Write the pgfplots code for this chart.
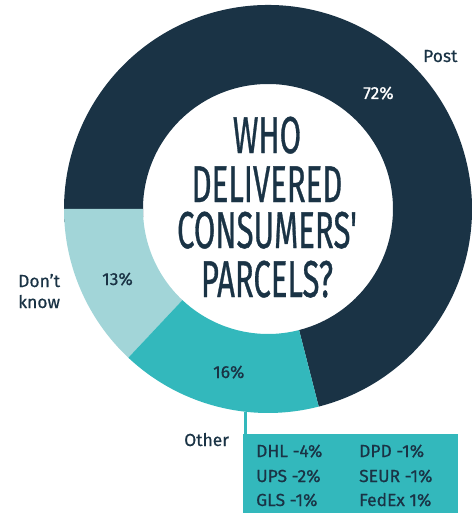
\documentclass[border=0pt]{standalone}
\usepackage{pgfplots}
\pgfplotsset{compat=1.18}
\usepackage{pgfplotstable}
\usepackage{fontspec}
\setmainfont{Fira Sans}[FakeBold=0.6]
\newfontfamily\titlefont[FakeBold=0.9]{Fira Sans}
\definecolor{cnavy}{HTML}{1A3345}
\definecolor{cteal}{HTML}{33B8BC}
\definecolor{clight}{HTML}{A2D5D8}

\pgfplotstableread{
segment share
Post 72
Dontknow 13
Other 16
}\shares

\newcommand\ring[3]{%
  \fill[#1] (axis cs:268,305) ++(#2:204bp) arc[start angle=#2,end angle=#3,radius=204bp]
    -- ++(#3+180:79bp) arc[start angle=#3,end angle=#2,radius=125bp] -- cycle;}

\begin{document}
\begin{tikzpicture}
\pgfplotstablegetelem{0}{share}\of\shares\let\sPost\pgfplotsretval
\pgfplotstablegetelem{1}{share}\of\shares\let\sDK\pgfplotsretval
\pgfplotstablegetelem{2}{share}\of\shares\let\sOther\pgfplotsretval
\pgfmathsetmacro\aA{180}
\pgfmathsetmacro\aB{\aA+3.6*\sDK}
\pgfmathsetmacro\aC{\aB+3.6*\sOther}
\pgfmathsetmacro\aD{\aC+3.6*\sPost}
\begin{axis}[x=1bp,y=1bp,xmin=0,xmax=472,ymin=0,ymax=514,
  hide axis,clip=false,scale only axis]
\ring{cnavy}{\aC}{\aD}
\ring{clight}{\aA}{\aB}
\ring{cteal}{\aB}{\aC}
% title
\begin{scope}[every node/.style={anchor=base,text=cnavy,xscale=0.6,transform shape,
   font=\titlefont\fontsize{52}{52}\selectfont,inner sep=0pt,text height=37bp,text depth=0pt}]
\node at (axis cs:267,361) {WHO};
\node at (axis cs:267,312) {DELIVERED};
\node at (axis cs:267,266) {CONSUMERS'};
\node at (axis cs:267,217) {PARCELS?};
\end{scope}
\begin{scope}[every node/.style={anchor=base west,text=cnavy,inner sep=0pt,
   font=\fontsize{17.5}{21}\selectfont}]
\node at (axis cs:423,452) {Post};
\node[text=white] at (axis cs:363,415) {72\%};
\node at (axis cs:102,229) {13\%};
\node at (axis cs:213,136) {16\%};
\node at (axis cs:18,227) {Don't};
\node at (axis cs:18,206) {know};
\node at (axis cs:184,68) {Other};
\end{scope}
\draw[cteal,line width=2.2bp] (axis cs:245.5,102) -- (axis cs:245.5,80);
\fill[cteal] (axis cs:243,1) rectangle (axis cs:458,80);
\begin{scope}[every node/.style={anchor=base west,text=cnavy,inner sep=0pt,
   font=\fontsize{17.5}{21}\selectfont}]
\node at (axis cs:256,57) {DHL -4\%};
\node at (axis cs:256,32) {UPS -2\%};
\node at (axis cs:256,8) {GLS -1\%};
\node at (axis cs:359,57) {DPD -1\%};
\node at (axis cs:359,32) {SEUR -1\%};
\node at (axis cs:359,8) {FedEx 1\%};
\end{scope}
\end{axis}
\pgfresetboundingbox
\path (0,0) rectangle (472bp,514bp);
\end{tikzpicture}
\end{document}
